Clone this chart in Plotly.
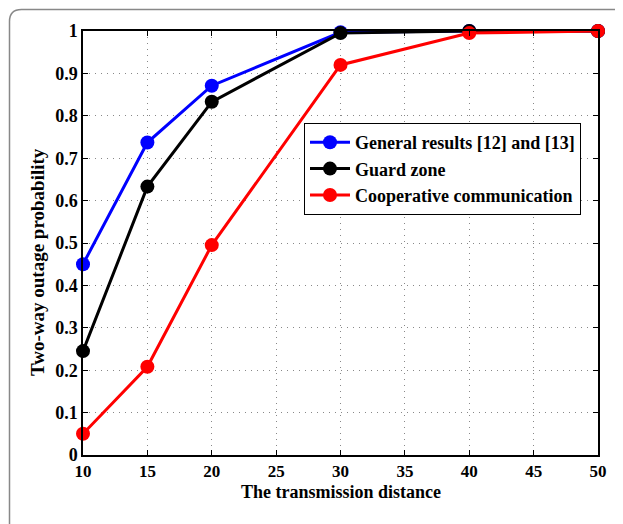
import plotly.graph_objects as go

distance = [10, 15, 20, 30, 40, 50]
general = [0.45, 0.737, 0.871, 0.997, 1.0, 1.0]
guard = [0.245, 0.633, 0.833, 0.995, 1.0, 1.0]
coop = [0.05, 0.208, 0.495, 0.92, 0.995, 1.0]
x_ticks = [10, 15, 20, 25, 30, 35, 40, 45, 50]
y_ticks = [0, 0.1, 0.2, 0.3, 0.4, 0.5, 0.6, 0.7, 0.8, 0.9, 1]
y_tick_text = ["0", "0.1", "0.2", "0.3", "0.4", "0.5", "0.6", "0.7", "0.8", "0.9", "1"]

FONT = "Liberation Serif, Times New Roman, serif"

fig = go.Figure()
for name, ys, col in [("<b>General results [12] and [13]</b>", general, "#0000ff"),
                      ("<b>Guard zone</b>", guard, "#000000"),
                      ("<b>Cooperative communication</b>", coop, "#ff0000")]:
    fig.add_trace(go.Scatter(x=distance, y=ys, mode="lines+markers", name=name,
                             line=dict(color=col, width=3),
                             marker=dict(color=col, size=14, line=dict(width=0)),
                             cliponaxis=False))

OFF = 8  # page offset of the figure in the window
L, T = 83 - OFF, 31 - OFF
W, H = 623, 524
pw, ph = 515, 424
R, B = W - L - pw, H - T - ph

def px(x):
    return (x - OFF - L) / pw

def py(y):
    return (T + ph - (y - OFF)) / ph

# outer frame: only the top and left edges are visible in the reference
x0, x1, y0, y1 = px(OFF + 1.5), px(700), py(600), py(OFF + 1.5)
rx, ry = 12 / pw, 12 / ph
path = f"M {x0},{y0} L {x0},{y1-ry} Q {x0},{y1} {x0+rx},{y1} L {x1},{y1}"

fig.update_layout(
    width=W, height=H,
    margin=dict(l=L, r=R, t=T, b=B),
    paper_bgcolor="white", plot_bgcolor="white",
    font=dict(family=FONT, size=17, color="black"),
    showlegend=True,
    legend=dict(x=px(304), y=py(123), xanchor="left", yanchor="top",
                bgcolor="white", bordercolor="black", borderwidth=1,
                font=dict(family=FONT, size=18, color="black"),
                tracegroupgap=0, itemwidth=40),
    shapes=[dict(type="path", xref="paper", yref="paper", path=path,
                 line=dict(color="#888888", width=1.5), layer="below")],
    annotations=[
        dict(text="<b>The transmission distance</b>", xref="paper", yref="paper",
             x=0.5, y=py(492), xanchor="center", yanchor="middle", showarrow=False,
             font=dict(family=FONT, size=18)),
        dict(text="<b>Two-way outage probability</b>", xref="paper", yref="paper",
             x=px(38), y=py(262), xanchor="center", yanchor="middle", showarrow=False,
             textangle=-90, font=dict(family=FONT, size=19)),
    ],
)
fig.update_xaxes(range=[10, 50], tickvals=x_ticks,
                 ticktext=[f"<b>{v}</b>" for v in x_ticks],
                 showgrid=True, gridcolor="#888888", griddash="1px,5px", gridwidth=1,
                 showline=True, linecolor="black", linewidth=1.5, mirror="ticks",
                 ticks="inside", ticklen=5, tickcolor="black", tickwidth=1,
                 zeroline=False, tickfont=dict(family=FONT, size=17))
fig.update_yaxes(range=[0, 1], tickvals=y_ticks,
                 ticktext=[f"<b>{t}</b>" for t in y_tick_text],
                 showgrid=True, gridcolor="#888888", griddash="1px,5px", gridwidth=1,
                 showline=True, linecolor="black", linewidth=1.5, mirror="ticks",
                 ticks="inside", ticklen=5, tickcolor="black", tickwidth=1,
                 zeroline=False, tickfont=dict(family=FONT, size=18))

fig.write_html("out.html")
